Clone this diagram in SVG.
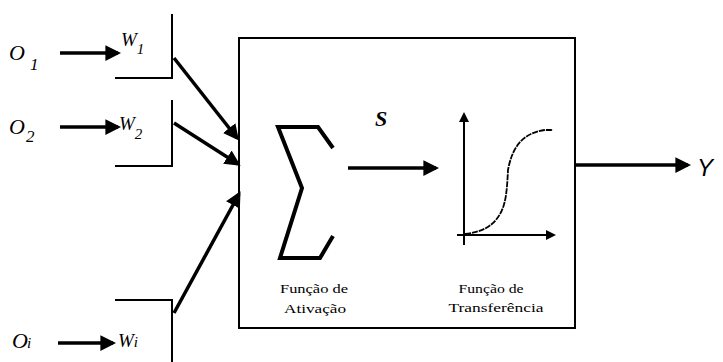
<svg xmlns="http://www.w3.org/2000/svg" width="723" height="362" viewBox="0 0 723 362">
  <defs>
    <marker id="head" viewBox="0 0 10 10" refX="8" refY="5" markerWidth="4.5" markerHeight="4.5" markerUnits="strokeWidth" orient="auto">
      <path d="M0,0 L10,5 L0,10 z" fill="#000"/>
    </marker>
    <marker id="headSmall" viewBox="0 0 10 10" refX="8" refY="5" markerWidth="5" markerHeight="5" markerUnits="strokeWidth" orient="auto">
      <path d="M0,0 L10,5 L0,10 z" fill="#000"/>
    </marker>
  </defs>
  <style>
    text { font-family: 'Liberation Serif', 'Times New Roman', Times, serif; fill: #000; }
    .sym { font-style: italic; }
    .cap { font-size: 13.5px; text-anchor: middle; }
    .wire { stroke: #000; stroke-width: 3.5; fill: none; }
    .frame { stroke: #000; stroke-width: 2; fill: none; }
  </style>
  <rect width="723" height="362" fill="#fff"/>

  <!-- inputs -->
  <g id="input-o1">
    <text class="sym" x="9" y="60" font-size="22">O<tspan font-size="17" dy="10" dx="5">1</tspan></text>
  </g>
  <g id="input-o2">
    <text class="sym" x="9" y="134" font-size="22">O<tspan font-size="17" dy="8" dx="1">2</tspan></text>
  </g>
  <g id="input-oi">
    <text class="sym" x="12" y="348" font-size="22">O<tspan font-size="15" dx="-1">i</tspan></text>
  </g>

  <!-- weights -->
  <g id="weight-w1">
    <path class="frame" d="M172,14 V78 H115"/>
    <text class="sym" x="121" y="46" font-size="19">W<tspan font-size="15" dy="8">1</tspan></text>
  </g>
  <g id="weight-w2">
    <path class="frame" d="M172,100 V166 H115"/>
    <text class="sym" x="119" y="130" font-size="19">W<tspan font-size="15" dy="9">2</tspan></text>
  </g>
  <g id="weight-wi">
    <path class="frame" d="M115,300 H172 V362"/>
    <text class="sym" x="118" y="347" font-size="19">W<tspan font-size="15">i</tspan></text>
  </g>

  <!-- neuron body -->
  <g id="neuron">
    <rect class="frame" x="239" y="38" width="336" height="290"/>
  </g>

  <g id="activation">
    <path d="M333,148 L318,127 H278 L302,188 L280,258 H320 L333,236" stroke="#000" stroke-width="4" fill="none" stroke-linejoin="miter"/>
    <text class="cap" x="314" y="293" textLength="68" lengthAdjust="spacingAndGlyphs">Função de</text>
    <text class="cap" x="315" y="313" textLength="62" lengthAdjust="spacingAndGlyphs">Ativação</text>
  </g>

  <g id="transfer">
    <line x1="464" y1="245" x2="464" y2="114" stroke="#000" stroke-width="2" marker-end="url(#headSmall)"/>
    <line x1="457" y1="235" x2="554" y2="235" stroke="#000" stroke-width="2" marker-end="url(#headSmall)"/>
    <path d="M465,234 C480,232 492,228 500,214 C506,204 507,190 508,170 C512,148 522,133 545,130 L553,130" stroke="#000" stroke-width="1.8" fill="none" stroke-dasharray="6,1"/>
    <text class="cap" x="491" y="293" textLength="65" lengthAdjust="spacingAndGlyphs">Função de</text>
    <text class="cap" x="496" y="312" textLength="95" lengthAdjust="spacingAndGlyphs">Transferência</text>
  </g>

  <g id="output">
    <text x="697" y="176" style="font-family: 'Liberation Sans', Arial, sans-serif" font-style="italic" font-size="24">Y</text>
  </g>

  <!-- connectors -->
  <g id="connectors">
    <line class="wire" x1="60" y1="53" x2="118" y2="53" marker-end="url(#head)"/>
    <line class="wire" x1="60" y1="127" x2="118" y2="127" marker-end="url(#head)"/>
    <line class="wire" x1="58" y1="343" x2="113" y2="343" marker-end="url(#head)"/>
    <line class="wire" x1="174" y1="58" x2="237" y2="138" stroke-width="4" marker-end="url(#head)"/>
    <line class="wire" x1="174" y1="123" x2="238" y2="164" stroke-width="4" marker-end="url(#head)"/>
    <line class="wire" x1="174" y1="313" x2="239" y2="194" stroke-width="4" marker-end="url(#head)"/>
    <line class="wire" x1="348" y1="168" x2="436" y2="168" marker-end="url(#head)"/>
    <line class="wire" x1="575" y1="165" x2="688" y2="165" marker-end="url(#head)"/>
    <text class="sym" x="375" y="126" font-size="22" font-weight="bold">S</text>
  </g>
</svg>
